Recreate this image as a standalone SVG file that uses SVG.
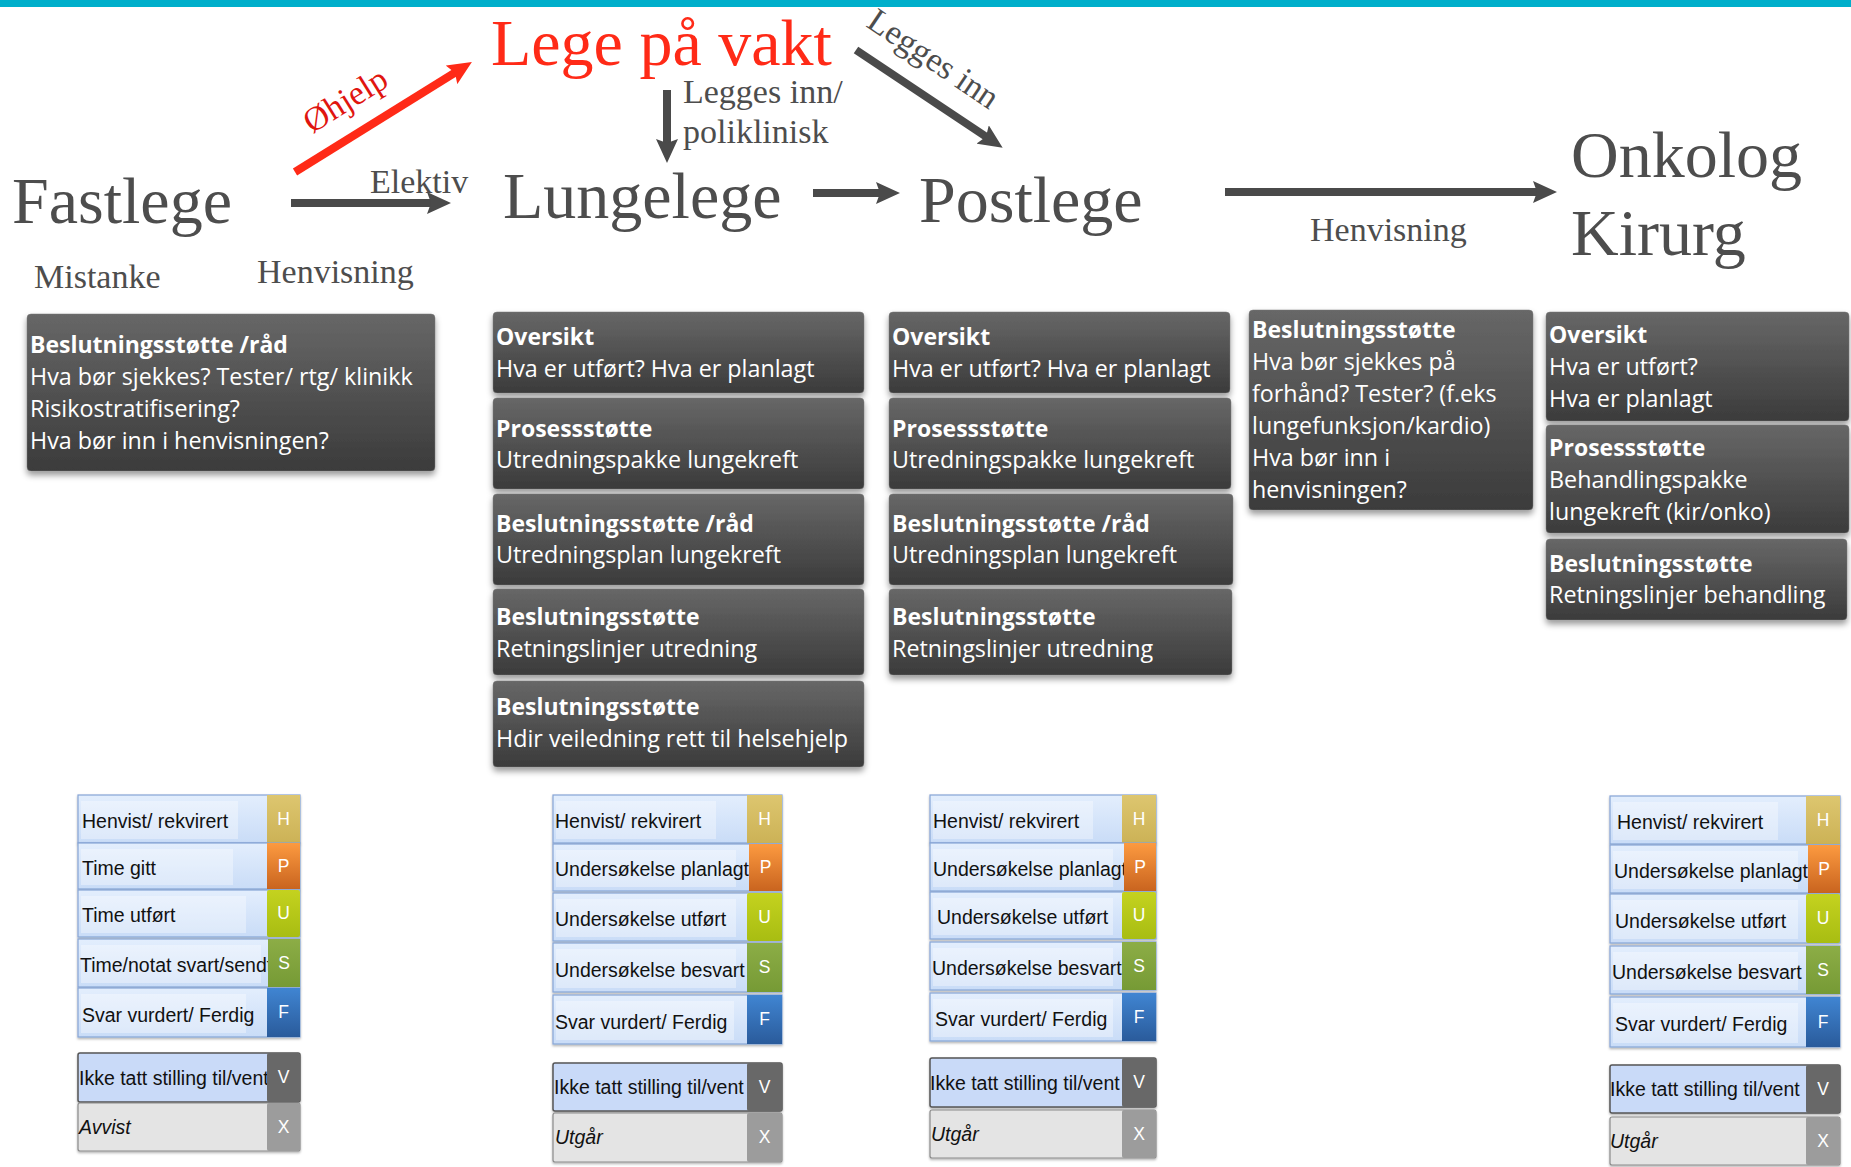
<svg xmlns="http://www.w3.org/2000/svg" width="1851" height="1167" viewBox="0 0 1851 1167">
  <style>
    .role { font-family: "Liberation Serif", "Times New Roman", serif; font-size: 66px; fill: #4d4d4d; }
    .lbl { font-family: "Liberation Serif", "Times New Roman", serif; font-size: 34px; fill: #4d4d4d; }
    .red { fill: #ff2a17; }
    .shaft { stroke: #4a4a4a; stroke-width: 8; fill: none; marker-end: url(#headGray); }
    .shaft-red { stroke: #ff2a17; stroke-width: 8; fill: none; marker-end: url(#headRed); }
    .box { fill: url(#boxGrad); stroke: #7a7a7a; stroke-opacity: 0.5; stroke-width: 1; filter: url(#shadow); }
    .bt { font-family: "Open Sans", "Liberation Sans", sans-serif; font-size: 23.3px; fill: #ffffff; }
    .bt .b { font-weight: 700; font-size: 23px; }
    .row { fill: url(#rowGrad); stroke: #86a5d6; stroke-width: 1.2; filter: url(#rowShadow); }
    .rowV { fill: #c9daf8; stroke: #555555; stroke-width: 1.5; filter: url(#rowShadow); }
    .rowX { fill: #e4e4e4; stroke: #8a8a8a; stroke-width: 1.2; filter: url(#rowShadow); }
    .hl { fill: #ffffff; opacity: 0.35; }
    .rt { font-family: "Liberation Sans", Arial, sans-serif; font-size: 19.5px; fill: #111111; }
    .it { font-style: italic; }
    .tag { font-family: "Liberation Sans", Arial, sans-serif; font-size: 17.5px; fill: #ffffff; text-anchor: middle; }
  </style>
  <defs>
    <linearGradient id="boxGrad" x1="0" y1="0" x2="0" y2="1">
      <stop offset="0" stop-color="#676767"/>
      <stop offset="1" stop-color="#3b3b3b"/>
    </linearGradient>
    <linearGradient id="rowGrad" x1="0" y1="0" x2="0" y2="1">
      <stop offset="0" stop-color="#e3eefd"/>
      <stop offset="1" stop-color="#c9dcf7"/>
    </linearGradient>
    <linearGradient id="gH" x1="0" y1="0" x2="0" y2="1"><stop offset="0" stop-color="#ddc66f"/><stop offset="1" stop-color="#ccb256"/></linearGradient>
    <linearGradient id="gP" x1="0" y1="0" x2="0" y2="1"><stop offset="0" stop-color="#fc9a40"/><stop offset="1" stop-color="#c9641f"/></linearGradient>
    <linearGradient id="gU" x1="0" y1="0" x2="0" y2="1"><stop offset="0" stop-color="#c4d21f"/><stop offset="1" stop-color="#a8bd12"/></linearGradient>
    <linearGradient id="gS" x1="0" y1="0" x2="0" y2="1"><stop offset="0" stop-color="#8cad46"/><stop offset="1" stop-color="#769a35"/></linearGradient>
    <linearGradient id="gF" x1="0" y1="0" x2="0" y2="1"><stop offset="0" stop-color="#4085d2"/><stop offset="1" stop-color="#2a5b9b"/></linearGradient>
    <filter id="shadow" x="-5%" y="-10%" width="110%" height="130%">
      <feDropShadow dx="0" dy="4" stdDeviation="3" flood-color="#000000" flood-opacity="0.4"/>
    </filter>
    <filter id="rowShadow" x="-5%" y="-10%" width="110%" height="130%">
      <feDropShadow dx="0" dy="1.5" stdDeviation="1" flood-color="#000000" flood-opacity="0.3"/>
    </filter>
    <marker id="headGray" markerUnits="userSpaceOnUse" viewBox="0 0 24 22" refX="10" refY="11" markerWidth="24" markerHeight="22" orient="auto">
      <path d="M0,0 L24,11 L0,22 L4,11 Z" fill="#4a4a4a"/>
    </marker>
    <marker id="headRed" markerUnits="userSpaceOnUse" viewBox="0 0 24 22" refX="10" refY="11" markerWidth="24" markerHeight="22" orient="auto">
      <path d="M0,0 L24,11 L0,22 L4,11 Z" fill="#ff2a17"/>
    </marker>
  </defs>

  <rect x="0" y="0" width="1851" height="7" fill="#00afcb"/>

  <!-- Roles -->
  <g id="node-fastlege">
    <text class="role" x="12" y="223">Fastlege</text>
    <text class="lbl" x="34" y="288">Mistanke</text>
  </g>
  <g id="node-lege-pa-vakt">
    <text class="role red" x="491" y="65">Lege på vakt</text>
  </g>
  <g id="node-lungelege">
    <text class="role" x="503" y="218">Lungelege</text>
  </g>
  <g id="node-postlege">
    <text class="role" x="919" y="222">Postlege</text>
  </g>
  <g id="node-onkolog-kirurg">
    <text class="role" x="1571" y="177">Onkolog</text>
    <text class="role" x="1571" y="255">Kirurg</text>
  </g>

  <!-- Connectors and their labels -->
  <g id="connectors">
    <line class="shaft-red" x1="295" y1="172" x2="460" y2="69.5"/>
    <text class="lbl" x="312" y="134" transform="rotate(-32 312 134)" style="fill:#e0150f">Øhjelp</text>

    <line class="shaft" x1="291" y1="203" x2="437" y2="203"/>
    <text class="lbl" x="370" y="193">Elektiv</text>
    <text class="lbl" x="257" y="283">Henvisning</text>

    <line class="shaft" x1="667" y1="90" x2="667" y2="149"/>
    <text class="lbl" x="683" y="103">Legges inn/</text>
    <text class="lbl" x="683" y="143">poliklinisk</text>

    <line class="shaft" x1="856" y1="50" x2="991" y2="140"/>
    <text class="lbl" x="865" y="26" transform="rotate(34 865 26)">Legges inn</text>

    <line class="shaft" x1="813" y1="193" x2="886" y2="193"/>

    <line class="shaft" x1="1225" y1="192" x2="1543" y2="192"/>
    <text class="lbl" x="1310" y="241">Henvisning</text>
  </g>

  <!-- Support boxes: Fastlege -->
  <g id="support-fastlege">
    <rect class="box" x="27" y="314" width="408" height="157" rx="4"/>
    <text class="bt" x="30"><tspan class="b" x="30" y="353">Beslutningsstøtte /råd</tspan><tspan x="30" y="385">Hva bør sjekkes? Tester/ rtg/ klinikk</tspan><tspan x="30" y="417">Risikostratifisering?</tspan><tspan x="30" y="449">Hva bør inn i henvisningen?</tspan></text>
  </g>

  <!-- Support boxes: Lungelege -->
  <g id="support-lungelege">
    <rect class="box" x="493" y="312" width="371" height="81" rx="4"/>
    <text class="bt"><tspan class="b" x="496" y="345">Oversikt</tspan><tspan x="496" y="377">Hva er utført? Hva er planlagt</tspan></text>
    <rect class="box" x="493" y="398" width="371" height="91" rx="4"/>
    <text class="bt"><tspan class="b" x="496" y="437">Prosessstøtte</tspan><tspan x="496" y="468">Utredningspakke lungekreft</tspan></text>
    <rect class="box" x="493" y="494" width="371" height="91" rx="4"/>
    <text class="bt"><tspan class="b" x="496" y="532">Beslutningsstøtte /råd</tspan><tspan x="496" y="563">Utredningsplan lungekreft</tspan></text>
    <rect class="box" x="493" y="589" width="371" height="86" rx="4"/>
    <text class="bt"><tspan class="b" x="496" y="625">Beslutningsstøtte</tspan><tspan x="496" y="657">Retningslinjer utredning</tspan></text>
    <rect class="box" x="493" y="681" width="371" height="86" rx="4"/>
    <text class="bt"><tspan class="b" x="496" y="715">Beslutningsstøtte</tspan><tspan x="496" y="747">Hdir veiledning rett til helsehjelp</tspan></text>
  </g>

  <!-- Support boxes: Postlege -->
  <g id="support-postlege">
    <rect class="box" x="889" y="312" width="341" height="81" rx="4"/>
    <text class="bt"><tspan class="b" x="892" y="345">Oversikt</tspan><tspan x="892" y="377">Hva er utført? Hva er planlagt</tspan></text>
    <rect class="box" x="889" y="398" width="342" height="91" rx="4"/>
    <text class="bt"><tspan class="b" x="892" y="437">Prosessstøtte</tspan><tspan x="892" y="468">Utredningspakke lungekreft</tspan></text>
    <rect class="box" x="889" y="494" width="344" height="91" rx="4"/>
    <text class="bt"><tspan class="b" x="892" y="532">Beslutningsstøtte /råd</tspan><tspan x="892" y="563">Utredningsplan lungekreft</tspan></text>
    <rect class="box" x="889" y="589" width="343" height="86" rx="4"/>
    <text class="bt"><tspan class="b" x="892" y="625">Beslutningsstøtte</tspan><tspan x="892" y="657">Retningslinjer utredning</tspan></text>
  </g>

  <!-- Support box: referral to oncology / surgery -->
  <g id="support-henvisning">
    <rect class="box" x="1249" y="310" width="284" height="200" rx="4"/>
    <text class="bt"><tspan class="b" x="1252" y="338">Beslutningsstøtte</tspan><tspan x="1252" y="370">Hva bør sjekkes på</tspan><tspan x="1252" y="402">forhånd? Tester? (f.eks</tspan><tspan x="1252" y="434">lungefunksjon/kardio)</tspan><tspan x="1252" y="466">Hva bør inn i</tspan><tspan x="1252" y="498">henvisningen?</tspan></text>
  </g>

  <!-- Support boxes: Onkolog / Kirurg -->
  <g id="support-onkolog">
    <rect class="box" x="1546" y="312" width="303" height="109" rx="4"/>
    <text class="bt"><tspan class="b" x="1549" y="343">Oversikt</tspan><tspan x="1549" y="375">Hva er utført?</tspan><tspan x="1549" y="407">Hva er planlagt</tspan></text>
    <rect class="box" x="1546" y="425" width="303" height="108" rx="4"/>
    <text class="bt"><tspan class="b" x="1549" y="456">Prosessstøtte</tspan><tspan x="1549" y="488">Behandlingspakke</tspan><tspan x="1549" y="520">lungekreft (kir/onko)</tspan></text>
    <rect class="box" x="1546" y="539" width="301" height="81" rx="4"/>
    <text class="bt"><tspan class="b" x="1549" y="572">Beslutningsstøtte</tspan><tspan x="1549" y="603">Retningslinjer behandling</tspan></text>
  </g>

  <!-- Status legend: Fastlege -->
  <g id="status-fastlege">
    <rect class="row" x="78" y="795" width="222" height="48"/><rect class="hl" x="81" y="801" width="157" height="38"/>
    <text class="rt" x="82" y="828">Henvist/ rekvirert</text>
    <rect x="267" y="795" width="33" height="48" fill="url(#gH)"/><text class="tag" x="283.5" y="825">H</text>
    <rect class="row" x="78" y="843" width="222" height="46"/><rect class="hl" x="81" y="849" width="152" height="36"/>
    <text class="rt" x="82" y="875">Time gitt</text>
    <rect x="267" y="843" width="33" height="46" fill="url(#gP)"/><text class="tag" x="283.5" y="872">P</text>
    <rect class="row" x="78" y="890" width="222" height="47"/><rect class="hl" x="81" y="896" width="165" height="37"/>
    <text class="rt" x="82" y="922">Time utført</text>
    <rect x="267" y="890" width="33" height="47" fill="url(#gU)" rx="2"/><text class="tag" x="283.5" y="919">U</text>
    <rect class="row" x="78" y="939" width="222" height="48"/><rect class="hl" x="81" y="945" width="180" height="38"/>
    <text class="rt" x="80" y="972">Time/notat svart/sendt</text>
    <rect x="268" y="939" width="32" height="48" fill="url(#gS)"/><text class="tag" x="284" y="969">S</text>
    <rect class="row" x="78" y="988" width="222" height="49"/><rect class="hl" x="81" y="994" width="165" height="39"/>
    <text class="rt" x="82" y="1022">Svar vurdert/ Ferdig</text>
    <rect x="267" y="988" width="33" height="49" fill="url(#gF)"/><text class="tag" x="283.5" y="1018">F</text>

    <rect class="rowV" x="78" y="1053" width="222" height="49" rx="2"/>
    <text class="rt" x="79" y="1085">Ikke tatt stilling til/vent</text>
    <rect x="267" y="1053" width="33" height="49" fill="#686868" rx="2"/><text class="tag" x="283.5" y="1083">V</text>
    <rect class="rowX" x="78" y="1103" width="222" height="48" rx="2"/>
    <text class="rt it" x="79" y="1134">Avvist</text>
    <rect x="267" y="1103" width="33" height="48" fill="#9c9c9c" rx="2"/><text class="tag" x="283.5" y="1133">X</text>
  </g>

  <!-- Status legend: Lungelege -->
  <g id="status-lungelege">
    <rect class="row" x="553" y="795" width="229" height="48"/><rect class="hl" x="556" y="801" width="160" height="38"/>
    <text class="rt" x="555" y="828">Henvist/ rekvirert</text>
    <rect x="747" y="795" width="35" height="48" fill="url(#gH)"/><text class="tag" x="764.5" y="825">H</text>
    <rect class="row" x="553" y="844" width="229" height="47"/><rect class="hl" x="556" y="850" width="180" height="37"/>
    <text class="rt" x="555" y="876">Undersøkelse planlagt</text>
    <rect x="749" y="844" width="33" height="47" fill="url(#gP)"/><text class="tag" x="765.5" y="873">P</text>
    <rect class="row" x="553" y="893" width="229" height="48"/><rect class="hl" x="556" y="899" width="180" height="38"/>
    <text class="rt" x="555" y="926">Undersøkelse utført</text>
    <rect x="747" y="893" width="35" height="48" fill="url(#gU)" rx="2"/><text class="tag" x="764.5" y="923">U</text>
    <rect class="row" x="553" y="943" width="229" height="49"/><rect class="hl" x="556" y="949" width="180" height="39"/>
    <text class="rt" x="555" y="977">Undersøkelse besvart</text>
    <rect x="747" y="943" width="35" height="49" fill="url(#gS)"/><text class="tag" x="764.5" y="973">S</text>
    <rect class="row" x="553" y="995" width="229" height="49"/><rect class="hl" x="556" y="1001" width="178" height="39"/>
    <text class="rt" x="555" y="1029">Svar vurdert/ Ferdig</text>
    <rect x="747" y="995" width="35" height="49" fill="url(#gF)"/><text class="tag" x="764.5" y="1025">F</text>

    <rect class="rowV" x="553" y="1063" width="229" height="48" rx="2"/>
    <text class="rt" x="554" y="1094">Ikke tatt stilling til/vent</text>
    <rect x="747" y="1063" width="35" height="48" fill="#686868" rx="2"/><text class="tag" x="764.5" y="1093">V</text>
    <rect class="rowX" x="553" y="1113" width="229" height="49" rx="2"/>
    <text class="rt it" x="555" y="1144">Utgår</text>
    <rect x="747" y="1113" width="35" height="49" fill="#9c9c9c" rx="2"/><text class="tag" x="764.5" y="1143">X</text>
  </g>

  <!-- Status legend: Postlege -->
  <g id="status-postlege">
    <rect class="row" x="930" y="795" width="226" height="48"/><rect class="hl" x="933" y="801" width="160" height="38"/>
    <text class="rt" x="933" y="828">Henvist/ rekvirert</text>
    <rect x="1122" y="795" width="34" height="48" fill="url(#gH)"/><text class="tag" x="1139" y="825">H</text>
    <rect class="row" x="930" y="843" width="226" height="48"/><rect class="hl" x="933" y="849" width="180" height="38"/>
    <text class="rt" x="933" y="876">Undersøkelse planlagt</text>
    <rect x="1124" y="843" width="32" height="48" fill="url(#gP)"/><text class="tag" x="1140" y="873">P</text>
    <rect class="row" x="930" y="892" width="226" height="47"/><rect class="hl" x="933" y="898" width="180" height="37"/>
    <text class="rt" x="937" y="924">Undersøkelse utført</text>
    <rect x="1122" y="892" width="34" height="47" fill="url(#gU)" rx="2"/><text class="tag" x="1139" y="921">U</text>
    <rect class="row" x="930" y="942" width="226" height="48"/><rect class="hl" x="933" y="948" width="180" height="38"/>
    <text class="rt" x="932" y="975">Undersøkelse besvart</text>
    <rect x="1122" y="942" width="34" height="48" fill="url(#gS)"/><text class="tag" x="1139" y="972">S</text>
    <rect class="row" x="930" y="993" width="226" height="48"/><rect class="hl" x="933" y="999" width="180" height="38"/>
    <text class="rt" x="935" y="1026">Svar vurdert/ Ferdig</text>
    <rect x="1122" y="993" width="34" height="48" fill="url(#gF)"/><text class="tag" x="1139" y="1023">F</text>

    <rect class="rowV" x="930" y="1058" width="226" height="49" rx="2"/>
    <text class="rt" x="930" y="1090">Ikke tatt stilling til/vent</text>
    <rect x="1122" y="1058" width="34" height="49" fill="#686868" rx="2"/><text class="tag" x="1139" y="1088">V</text>
    <rect class="rowX" x="930" y="1110" width="226" height="48" rx="2"/>
    <text class="rt it" x="931" y="1141">Utgår</text>
    <rect x="1122" y="1110" width="34" height="48" fill="#9c9c9c" rx="2"/><text class="tag" x="1139" y="1140">X</text>
  </g>

  <!-- Status legend: Onkolog / Kirurg -->
  <g id="status-onkolog">
    <rect class="row" x="1610" y="796" width="230" height="48"/><rect class="hl" x="1613" y="802" width="165" height="38"/>
    <text class="rt" x="1617" y="829">Henvist/ rekvirert</text>
    <rect x="1806" y="796" width="34" height="48" fill="url(#gH)"/><text class="tag" x="1823" y="826">H</text>
    <rect class="row" x="1610" y="845" width="230" height="48"/><rect class="hl" x="1613" y="851" width="185" height="38"/>
    <text class="rt" x="1614" y="878">Undersøkelse planlagt</text>
    <rect x="1808" y="845" width="32" height="48" fill="url(#gP)"/><text class="tag" x="1824" y="875">P</text>
    <rect class="row" x="1610" y="894" width="230" height="49"/><rect class="hl" x="1613" y="900" width="185" height="39"/>
    <text class="rt" x="1615" y="928">Undersøkelse utført</text>
    <rect x="1806" y="894" width="34" height="49" fill="url(#gU)" rx="2"/><text class="tag" x="1823" y="924">U</text>
    <rect class="row" x="1610" y="946" width="230" height="48"/><rect class="hl" x="1613" y="952" width="185" height="38"/>
    <text class="rt" x="1612" y="979">Undersøkelse besvart</text>
    <rect x="1806" y="946" width="34" height="48" fill="url(#gS)"/><text class="tag" x="1823" y="976">S</text>
    <rect class="row" x="1610" y="997" width="230" height="50"/><rect class="hl" x="1613" y="1003" width="185" height="40"/>
    <text class="rt" x="1615" y="1031">Svar vurdert/ Ferdig</text>
    <rect x="1806" y="997" width="34" height="50" fill="url(#gF)"/><text class="tag" x="1823" y="1028">F</text>

    <rect class="rowV" x="1610" y="1065" width="230" height="48" rx="2"/>
    <text class="rt" x="1610" y="1096">Ikke tatt stilling til/vent</text>
    <rect x="1806" y="1065" width="34" height="48" fill="#686868" rx="2"/><text class="tag" x="1823" y="1095">V</text>
    <rect class="rowX" x="1610" y="1117" width="230" height="48" rx="2"/>
    <text class="rt it" x="1610" y="1148">Utgår</text>
    <rect x="1806" y="1117" width="34" height="48" fill="#9c9c9c" rx="2"/><text class="tag" x="1823" y="1147">X</text>
  </g>
</svg>
